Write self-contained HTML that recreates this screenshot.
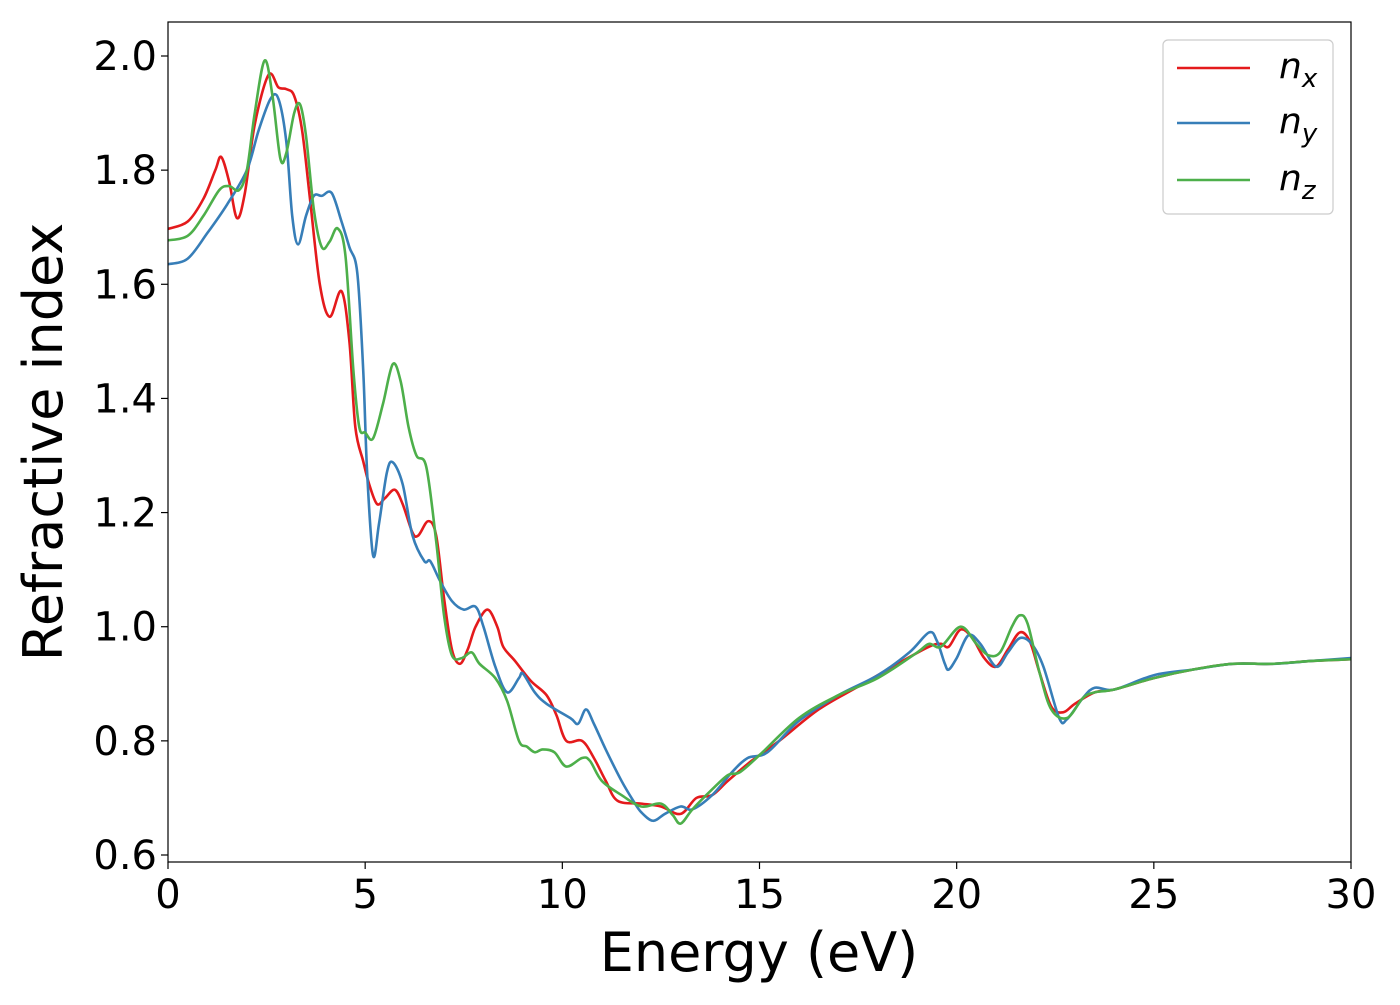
<!DOCTYPE html>
<html><head><meta charset="utf-8"><style>
body{margin:0;background:#fff;}
svg text{font-family:"DejaVu Sans","Liberation Sans",sans-serif;fill:#000;}
</style></head><body>
<svg id="chart" width="1400" height="1000" xmlns="http://www.w3.org/2000/svg">
<g id="plot"></g>
</svg>
<script>
const xTicks=[0,5,10,15,20,25,30];
const yTicks=[0.6,0.8,1.0,1.2,1.4,1.6,1.8,2.0];
const yTickLabels=["0.6","0.8","1.0","1.2","1.4","1.6","1.8","2.0"];
const seriesNames=["x","y","z"];
const nxE=[0,0.5,0.9,1.2,1.35,1.55,1.75,1.95,2.2,2.55,2.8,3.0,3.2,3.4,3.6,3.85,4.1,4.4,4.6,4.75,4.95,5.1,5.3,5.5,5.75,5.95,6.2,6.35,6.6,6.8,7.0,7.2,7.4,7.6,7.8,8.1,8.35,8.5,8.8,9.2,9.6,9.85,10.1,10.5,10.8,11.1,11.4,12.0,12.5,13.0,13.4,13.8,14.2,14.8,15.5,16.5,17.5,18.5,19.3,19.6,19.8,20.1,20.4,20.7,21.0,21.3,21.6,21.85,22.1,22.4,22.7,23.0,23.5,24,25,26,27,28,29,30];
const nxV=[1.697,1.71,1.75,1.80,1.823,1.78,1.716,1.76,1.88,1.967,1.945,1.942,1.93,1.87,1.75,1.60,1.543,1.588,1.50,1.35,1.29,1.25,1.215,1.225,1.24,1.215,1.165,1.16,1.185,1.16,1.05,0.96,0.935,0.96,1.0,1.03,1.0,0.965,0.94,0.905,0.88,0.845,0.80,0.80,0.77,0.73,0.695,0.69,0.685,0.672,0.70,0.705,0.73,0.765,0.80,0.855,0.895,0.935,0.965,0.97,0.965,0.995,0.98,0.945,0.93,0.96,0.99,0.975,0.92,0.86,0.85,0.865,0.885,0.89,0.91,0.925,0.935,0.935,0.94,0.943];
const nyE=[0,0.5,1.0,1.5,2.0,2.3,2.6,2.8,3.0,3.15,3.3,3.5,3.7,3.9,4.15,4.4,4.6,4.8,4.95,5.05,5.2,5.35,5.55,5.7,5.95,6.2,6.5,6.65,6.9,7.2,7.5,7.8,8.0,8.3,8.6,8.9,9.0,9.3,9.6,10.2,10.4,10.6,10.8,11.1,11.5,11.8,12.0,12.3,12.6,13.0,13.3,13.8,14.3,14.7,15.2,16,17,18,18.8,19.3,19.5,19.7,19.8,20.0,20.3,20.6,21.0,21.3,21.6,21.9,22.2,22.6,22.8,23.2,23.5,24,25,26,27,28,29,30];
const nyV=[1.635,1.645,1.69,1.74,1.8,1.87,1.925,1.925,1.85,1.72,1.67,1.72,1.755,1.755,1.76,1.71,1.665,1.62,1.45,1.27,1.125,1.18,1.27,1.288,1.25,1.16,1.115,1.115,1.08,1.045,1.03,1.035,1.0,0.93,0.885,0.91,0.918,0.885,0.865,0.84,0.83,0.855,0.83,0.785,0.73,0.695,0.675,0.66,0.672,0.685,0.68,0.705,0.745,0.77,0.78,0.835,0.88,0.915,0.955,0.99,0.975,0.935,0.925,0.945,0.985,0.97,0.93,0.955,0.98,0.97,0.93,0.84,0.838,0.875,0.893,0.89,0.915,0.925,0.935,0.935,0.94,0.945];
const nzE=[0,0.5,0.9,1.3,1.55,1.8,2.0,2.2,2.45,2.65,2.85,3.0,3.2,3.35,3.5,3.7,3.9,4.1,4.3,4.5,4.7,4.85,5.0,5.2,5.45,5.7,5.9,6.1,6.3,6.55,6.8,7.0,7.2,7.45,7.7,7.9,8.3,8.6,8.9,9.1,9.3,9.5,9.8,10.1,10.5,10.7,11.0,11.5,12.0,12.5,12.8,13.0,13.3,13.8,14.2,14.5,15,16,17,18,19,19.3,19.6,20.1,20.5,20.8,21.1,21.4,21.6,21.8,22.1,22.4,22.8,23.2,23.5,24,25,26,27,28,29,30];
const nzV=[1.677,1.685,1.72,1.765,1.772,1.765,1.80,1.90,1.992,1.93,1.82,1.83,1.90,1.915,1.86,1.73,1.665,1.675,1.698,1.65,1.45,1.35,1.34,1.33,1.39,1.46,1.43,1.35,1.30,1.28,1.15,1.02,0.95,0.945,0.955,0.935,0.91,0.87,0.80,0.79,0.78,0.785,0.78,0.755,0.77,0.765,0.73,0.705,0.685,0.69,0.67,0.655,0.68,0.715,0.74,0.745,0.775,0.84,0.88,0.91,0.955,0.97,0.965,1.0,0.97,0.95,0.955,1.0,1.02,1.005,0.92,0.855,0.84,0.875,0.885,0.89,0.91,0.925,0.935,0.935,0.94,0.943];

const L=168,R=1351,T=22,B=862;
const xMin=0,xMax=30;
const sx=e=>L+(e-xMin)/(xMax-xMin)*(R-L);
const sy=v=>855-(v-0.6)/1.4*799;
const NS="http://www.w3.org/2000/svg";
const svg=document.getElementById('chart');
function mk(tag,attrs,parent){const el=document.createElementNS(NS,tag);for(const k in attrs)el.setAttribute(k,attrs[k]);(parent||svg).appendChild(el);return el;}
function pathFor(E,V){
  const p=E.map((e,i)=>[sx(e),sy(V[i])]);
  let d="M"+p[0][0].toFixed(2)+","+p[0][1].toFixed(2);
  for(let i=0;i<p.length-1;i++){
    const p0=p[Math.max(0,i-1)],p1=p[i],p2=p[i+1],p3=p[Math.min(p.length-1,i+2)];
    const c1=[p1[0]+(p2[0]-p0[0])/6,p1[1]+(p2[1]-p0[1])/6];
    const c2=[p2[0]-(p3[0]-p1[0])/6,p2[1]-(p3[1]-p1[1])/6];
    d+="C"+c1[0].toFixed(2)+","+c1[1].toFixed(2)+" "+c2[0].toFixed(2)+","+c2[1].toFixed(2)+" "+p2[0].toFixed(2)+","+p2[1].toFixed(2);
  }
  return d;
}
const clip=mk('clipPath',{id:'cp'});
mk('rect',{x:L,y:T,width:R-L,height:B-T},clip);
const colors=["#e41a1c","#377eb8","#4daf4a"];
const data=[[nxE,nxV],[nyE,nyV],[nzE,nzV]];
data.forEach((s,i)=>{
  const el=mk('path',{d:pathFor(s[0],s[1]),fill:'none',stroke:colors[i],'stroke-width':2.6,'clip-path':'url(#cp)'});
  
  
});
const frame=mk('rect',{x:L,y:T,width:R-L,height:B-T,fill:'none',stroke:'#000','stroke-width':1.2});


xTicks.forEach(t=>{
  const x=sx(t);
  const tk=mk('line',{x1:x,x2:x,y1:B,y2:B+7,stroke:'#000','stroke-width':1.2});
  
  
  const lb=mk('text',{x:x,y:908,'text-anchor':'middle','font-size':40});
  lb.textContent=String(t);
  
  
});
yTicks.forEach((t,i)=>{
  const y=sy(t);
  const tk=mk('line',{x1:L-7,x2:L,y1:y,y2:y,stroke:'#000','stroke-width':1.2});
  
  
  const lb=mk('text',{x:157,y:y+14,'text-anchor':'end','font-size':40});
  lb.textContent=yTickLabels[i];
  
  
});
const xl=mk('text',{x:759,y:971,'text-anchor':'middle','font-size':54});
xl.textContent='Energy (eV)';


const yl=mk('text',{x:0,y:0,'text-anchor':'middle','font-size':54,transform:'translate(62,442) rotate(-90)'});
yl.textContent='Refractive index';


const lg=mk('g',{});


mk('rect',{x:1163,y:40,width:170,height:174,rx:5,fill:'#fff',stroke:'#ccc','stroke-width':1.2},lg);
const ly=[68,123,180];
seriesNames.forEach((n,i)=>{
  const g=mk('g',{},lg);
  
  
  mk('line',{x1:1177,x2:1250,y1:ly[i],y2:ly[i],stroke:colors[i],'stroke-width':2.6},g);
  const t=mk('text',{x:1279,y:ly[i]+10,'font-size':36,'font-style':'italic'},g);
  t.textContent='n';
  const s=mk('tspan',{dy:9,'font-size':26},t);
  s.textContent=n;
});
</script>
</body></html>
